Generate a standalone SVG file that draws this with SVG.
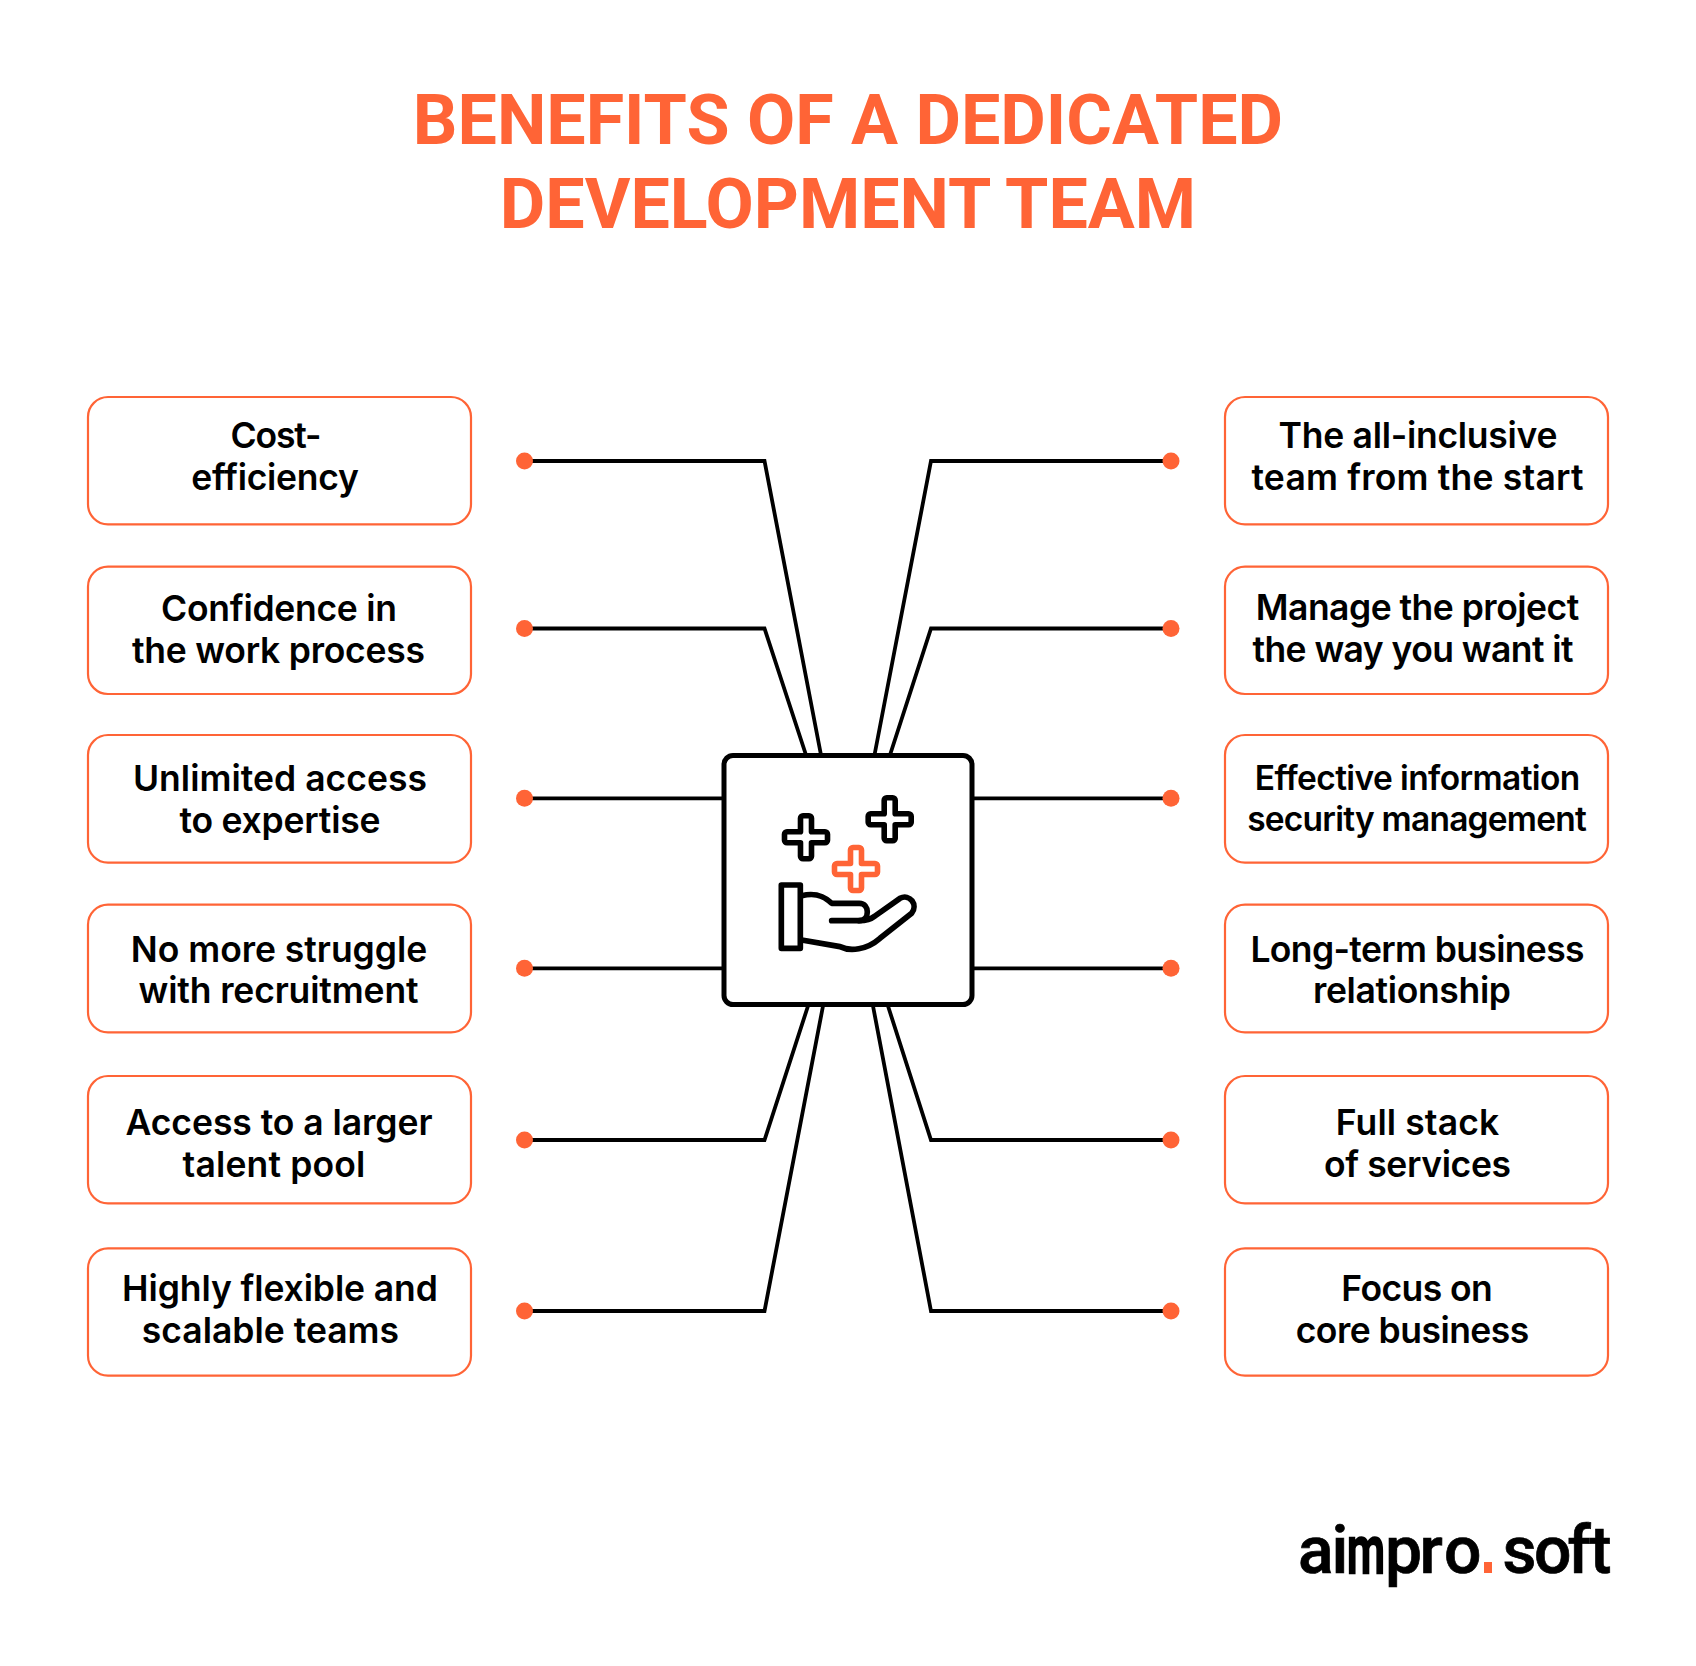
<svg xmlns="http://www.w3.org/2000/svg" width="1696" height="1666" viewBox="0 0 1696 1666">
<style>
.title{font:700 70px Roboto,"Liberation Sans",sans-serif;fill:#ff6436;text-anchor:middle}
.t{font:600 35.500px Inter,Roboto,"Liberation Sans",sans-serif;fill:#000;text-anchor:middle}
.s{font-size:33.500px}
.box{fill:#fff;stroke:#ff6436;stroke-width:2.2}
.line{fill:none;stroke:#000;stroke-width:3.8}
.dot{fill:#ff6436}
.ic{fill:none;stroke:#000;stroke-width:17;stroke-linejoin:round;stroke-linecap:round}
.logo{font:500 66px Roboto,"Liberation Sans",sans-serif;fill:#000;stroke:#000;stroke-width:.7}
</style>
<defs>
<path id="plus" d="M-5.500 -19A2.500 2.500 0 0 1 -3 -21.500H3A2.500 2.500 0 0 1 5.500 -19V-5.500H19A2.500 2.500 0 0 1 21.500 -3V3A2.500 2.500 0 0 1 19 5.500H5.500V19A2.500 2.500 0 0 1 3 21.500H-3A2.500 2.500 0 0 1 -5.500 19V5.500H-19A2.500 2.500 0 0 1 -21.500 3V-3A2.500 2.500 0 0 1 -19 -5.500H-5.500Z" fill="none" stroke-width="5.600" stroke-linejoin="round"/>
</defs>
<rect width="1696" height="1666" fill="#fff"/>
<g id="title">
<text class="title" x="848" y="144">BENEFITS OF A DEDICATED</text>
<text class="title" x="848" y="228">DEVELOPMENT TEAM</text>
</g>
<g id="connectors">
<path class="line" d="M524.500 461H764.500L821 755"/>
<path class="line" d="M524.500 628.500H764.500L806 755"/>
<path class="line" d="M524.500 798.300H724"/>
<path class="line" d="M524.500 968.300H724"/>
<path class="line" d="M524.500 1140H764.500L808 1006"/>
<path class="line" d="M524.500 1311H764.500L823 1006"/>
<path class="line" d="M1171 461H931L874.500 755"/>
<path class="line" d="M1171 628.500H931L890 755"/>
<path class="line" d="M1171 798.300H972"/>
<path class="line" d="M1171 968.300H972"/>
<path class="line" d="M1171 1140H931L888 1006"/>
<path class="line" d="M1171 1311H931L873 1006"/>
<g class="dot">
<circle cx="524.500" cy="461" r="8.500"/><circle cx="524.500" cy="628.500" r="8.500"/><circle cx="524.500" cy="798.300" r="8.500"/><circle cx="524.500" cy="968.300" r="8.500"/><circle cx="524.500" cy="1140" r="8.500"/><circle cx="524.500" cy="1311" r="8.500"/>
<circle cx="1171" cy="461" r="8.500"/><circle cx="1171" cy="628.500" r="8.500"/><circle cx="1171" cy="798.300" r="8.500"/><circle cx="1171" cy="968.300" r="8.500"/><circle cx="1171" cy="1140" r="8.500"/><circle cx="1171" cy="1311" r="8.500"/>
</g>
</g>
<g id="center">
<rect x="724" y="755.500" width="248" height="249" rx="9" fill="#fff" stroke="#000" stroke-width="5"/>
<use href="#plus" x="806" y="837.300" stroke="#000"/>
<use href="#plus" x="889.700" y="819.300" stroke="#000"/>
<use href="#plus" x="856" y="869" stroke="#ff6436"/>
<g transform="translate(700 730) scale(.3333)">
<rect class="ic" x="244" y="465" width="57" height="190"/>
<path class="ic" d="M305 497C335 490 365 490 395 520H478C510 520 510 572 478 572H395"/>
<path class="ic" d="M478 572C495 572 510 570 525 558L600 505C630 490 655 525 635 550L540 625C500 660 450 665 420 650L305 630"/>
</g>
</g>
<g id="n1"><rect class="box" x="88" y="397" width="383" height="127.300" rx="20"/><text class="t" x="276" y="448" textLength="91">Cost-</text><text class="t" x="275" y="490" textLength="167.600">efficiency</text></g>
<g id="n2"><rect class="box" x="88" y="566.700" width="383" height="127.300" rx="20"/><text class="t" x="279" y="620.700" textLength="235.800">Confidence in</text><text class="t" x="278.500" y="662.700" textLength="293">the work process</text></g>
<g id="n3"><rect class="box" x="88" y="735" width="383" height="127.700" rx="20"/><text class="t" x="280" y="791" textLength="294.200">Unlimited access</text><text class="t" x="280" y="833.300" textLength="201">to expertise</text></g>
<g id="n4"><rect class="box" x="88" y="904.700" width="383" height="127.600" rx="20"/><text class="t" x="279" y="961.700" textLength="296.400">No more struggle</text><text class="t" x="278.500" y="1003.300" textLength="280">with recruitment</text></g>
<g id="n5"><rect class="box" x="88" y="1076" width="383" height="127.300" rx="20"/><text class="t" x="279" y="1135" textLength="307">Access to a larger</text><text class="t" x="274" y="1176.700" textLength="182.800">talent pool</text></g>
<g id="n6"><rect class="box" x="88" y="1248.300" width="383" height="127.400" rx="20"/><text class="t" x="280" y="1300.700" textLength="315.800">Highly flexible and</text><text class="t" x="270.400" y="1342.700" textLength="257.400">scalable teams</text></g>
<g id="n7"><rect class="box" x="1225" y="397" width="383" height="127.300" rx="20"/><text class="t" x="1418" y="448" textLength="279">The all-inclusive</text><text class="t" x="1417.500" y="490" textLength="332">team from the start</text></g>
<g id="n8"><rect class="box" x="1225" y="566.700" width="383" height="127.300" rx="20"/><text class="t" x="1417.500" y="620" textLength="323.400">Manage the project</text><text class="t" x="1413" y="662" textLength="321.200">the way you want it</text></g>
<g id="n9"><rect class="box" x="1225" y="735" width="383" height="127.700" rx="20"/><text class="t s" x="1417.500" y="790" textLength="325.600">Effective information</text><text class="t s" x="1417" y="830.700" textLength="339.600">security management</text></g>
<g id="n10"><rect class="box" x="1225" y="904.700" width="383" height="127.600" rx="20"/><text class="t" x="1417.500" y="961.700" textLength="334.200">Long-term business</text><text class="t" x="1412" y="1003.300" textLength="198">relationship</text></g>
<g id="n11"><rect class="box" x="1225" y="1076" width="383" height="127.300" rx="20"/><text class="t" x="1417.500" y="1135" textLength="163.300">Full stack</text><text class="t" x="1417.500" y="1176.700" textLength="187">of services</text></g>
<g id="n12"><rect class="box" x="1225" y="1248.300" width="383" height="127.400" rx="20"/><text class="t" x="1417" y="1300.700" textLength="151.400">Focus on</text><text class="t" x="1412.500" y="1342.700" textLength="233.600">core business</text></g>
<g id="logo">
<text class="logo" x="1298 1331.500" y="1573">ai</text>
<text class="logo" style="stroke-width:2.400" transform="translate(1347 1573) scale(.66 1)">m</text>
<text class="logo" x="1385 1419.500 1444" y="1573">pro</text>
<rect x="1484" y="1562" width="8" height="11" fill="#ff6436"/>
<text class="logo" x="1502.500 1534 1567.500 1589.500" y="1573">soft</text>
</g>
</svg>
